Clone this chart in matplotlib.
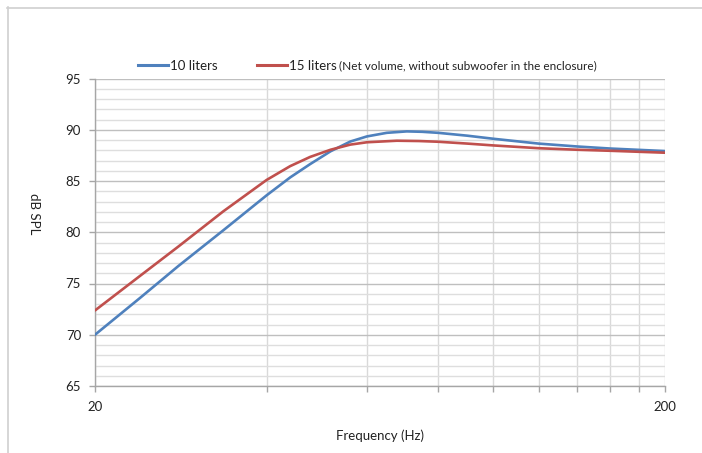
import matplotlib
matplotlib.use("Agg")
import matplotlib.pyplot as plt
from matplotlib.lines import Line2D
from matplotlib.ticker import FixedLocator, NullLocator, FixedFormatter

plt.rcParams['font.family'] = ['Lato', 'DejaVu Sans']

# Data
freq_10 = [20, 24, 28, 33.6, 40, 44, 47.7, 51.8, 56.1, 60, 65, 70.5, 75, 80, 90, 100, 120, 140, 160, 200]
spl_10 = [70.0, 73.6, 76.7, 80.2, 83.6, 85.35, 86.65, 87.9, 88.85, 89.35, 89.7, 89.84, 89.8, 89.7, 89.42, 89.12, 88.65, 88.37, 88.17, 87.92]
freq_15 = [20, 24, 28, 33.6, 40, 44, 47.7, 51.8, 56.1, 60, 67.7, 74, 80, 90, 100, 120, 140, 160, 200]
spl_15 = [72.37, 75.75, 78.6, 82.05, 85.1, 86.45, 87.35, 88.05, 88.55, 88.78, 88.93, 88.9, 88.83, 88.65, 88.47, 88.2, 88.05, 87.95, 87.76]

label_10 = "10 liters"
label_15 = "15 liters"
note_15 = "(Net volume, without subwoofer in the enclosure)"
x_ticks = [20, 40, 60, 80, 100, 120, 140, 160, 180, 200]
x_ticklabels = ["20", "", "", "", "", "", "", "", "", "200"]
y_major = [65, 70, 75, 80, 85, 90, 95]
y_minor = [v for v in range(65, 96) if v % 5 != 0]

W, H = 702, 453
fig = plt.figure(figsize=(W / 100, H / 100), dpi=100)
ax = fig.add_axes([95 / W, 1 - 386 / H, (665 - 95) / W, (386 - 78.5) / H])

ax.plot(freq_10, spl_10, color='#4f81bd', lw=1.9, solid_capstyle='round',
        solid_joinstyle='round', zorder=3)
ax.plot(freq_15, spl_15, color='#c0504d', lw=1.9, solid_capstyle='round',
        solid_joinstyle='round', zorder=3)

ax.set_xscale('log')
ax.set_xlim(20, 200)
ax.set_ylim(65, 95)
ax.xaxis.set_major_locator(FixedLocator(x_ticks))
ax.xaxis.set_major_formatter(FixedFormatter(x_ticklabels))
ax.xaxis.set_minor_locator(NullLocator())
ax.yaxis.set_major_locator(FixedLocator(y_major))
ax.yaxis.set_minor_locator(FixedLocator(y_minor))

ax.grid(True, axis='x', which='major', color='#d9d9d9', lw=1.0, zorder=0)
ax.grid(True, axis='y', which='major', color='#bfbfbf', lw=1.0, zorder=0)
ax.grid(True, axis='y', which='minor', color='#dedede', lw=1.0, zorder=0)
ax.set_axisbelow(True)

for s in ['top', 'right']:
    ax.spines[s].set_visible(False)
for s in ['left', 'bottom']:
    ax.spines[s].set_color('#a6a6a6')
    ax.spines[s].set_linewidth(1.0)

ax.tick_params(axis='both', which='major', length=4, width=1.0, color='#a6a6a6',
               labelsize=9.5, labelcolor='#222222')
ax.tick_params(axis='y', which='major', pad=6)
ax.tick_params(axis='x', which='major', pad=7)
ax.tick_params(axis='y', which='minor', length=0)

ax.set_ylabel("dB SPL", fontsize=9.5, color='#222222', rotation=270,
              ha='center', va='center')
ax.yaxis.set_label_coords(34 / W, 1 - 214 / H, transform=fig.transFigure)
ax.set_xlabel("Frequency (Hz)", fontsize=9.5, color='#222222', labelpad=12)

handles = [Line2D([], [], color='#4f81bd', lw=2.2), Line2D([], [], color='#c0504d', lw=2.2)]
leg = ax.legend(handles, [label_10, label_15], ncol=2, loc='center left',
                bbox_to_anchor=(138 / W, 1 - 66 / H), bbox_transform=fig.transFigure,
                frameon=False, borderpad=0, borderaxespad=0, handlelength=2.3,
                handletextpad=0.1, columnspacing=3.0, fontsize=9.5)
for t in leg.get_texts():
    t.set_color('#222222')

fig.canvas.draw()
bb = leg.get_texts()[1].get_window_extent()
fig.text((bb.x1 + 3) / W, 1 - 66 / H, note_15, fontsize=8.5, color='#222222',
         ha='left', va='center')

# chart frame (partial border as in the reference)
fig.add_artist(Line2D([7.5 / W, 7.5 / W], [0, 1 - 7 / H], transform=fig.transFigure,
                      color='#d0d0d0', lw=1.2))
fig.add_artist(Line2D([7 / W, 1], [1 - 7.5 / H, 1 - 7.5 / H], transform=fig.transFigure,
                      color='#d0d0d0', lw=1.2))

fig.savefig("out.png", dpi=100)
